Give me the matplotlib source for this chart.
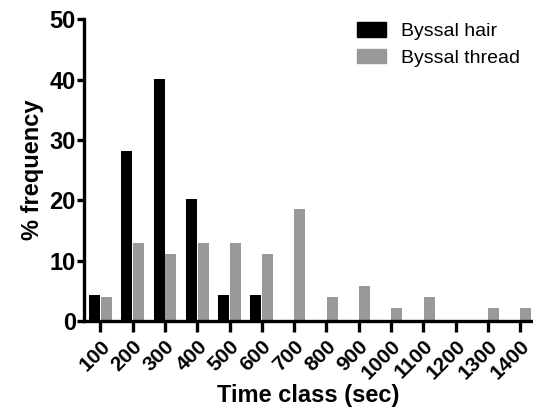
import numpy as np
from matplotlib import pyplot as plt
from matplotlib.patches import Patch

plt.rcParams["font.family"] = ["Liberation Sans", "DejaVu Sans"]

# time classes (sec) and % frequency per class
time_class = ["100", "200", "300", "400", "500", "600", "700",
              "800", "900", "1000", "1100", "1200", "1300", "1400"]
byssal_hair = [4.3, 28.2, 40.1, 20.2, 4.3, 4.3, 0, 0, 0, 0, 0, 0, 0, 0]
byssal_thread = [4.0, 13.0, 11.2, 13.0, 13.0, 11.2, 18.5,
                 4.0, 5.8, 2.1, 4.0, 0, 2.1, 2.1]

x = np.arange(len(time_class))
w = 0.34
gray = "#999999"

fig = plt.figure(figsize=(5.33, 4.16), dpi=100)
ax = fig.add_axes([0.158, 0.228, 0.842, 0.726])

ax.bar(x - 0.18, byssal_hair, w, color="black", label="Byssal hair")
ax.bar(x + 0.18, byssal_thread, w, color=gray, label="Byssal thread")

ax.set_xlim(-0.5, 13.4)
ax.set_ylim(0, 50)
ax.set_yticks([0, 10, 20, 30, 40, 50])
ax.set_xticks(x)
ax.set_xticklabels(time_class, rotation=45, ha="right", va="top",
                   rotation_mode="anchor", fontsize=15, fontweight="bold")
for lab in ax.get_yticklabels():
    lab.set_fontsize(17)
    lab.set_fontweight("bold")

for s in ["top", "right"]:
    ax.spines[s].set_visible(False)
for s in ["left", "bottom"]:
    ax.spines[s].set_linewidth(2.4)
ax.tick_params(axis="x", length=8, width=2.4, pad=3)
ax.tick_params(axis="y", length=5, width=2.4, pad=1)

ax.set_xlabel("Time class (sec)", fontsize=17, fontweight="bold", labelpad=1)
ax.set_ylabel("% frequency", fontsize=17, fontweight="bold", labelpad=4)

handles = [Patch(color="black"), Patch(color=gray)]
ax.legend(handles, ["Byssal hair", "Byssal thread"], frameon=False,
          fontsize=14, loc="upper left", bbox_to_anchor=(0.608, 0.99),
          borderpad=0, borderaxespad=0,
          handlelength=1.5, handleheight=0.8, handletextpad=0.75,
          labelspacing=0.42)

fig.savefig("out.png", dpi=100)
